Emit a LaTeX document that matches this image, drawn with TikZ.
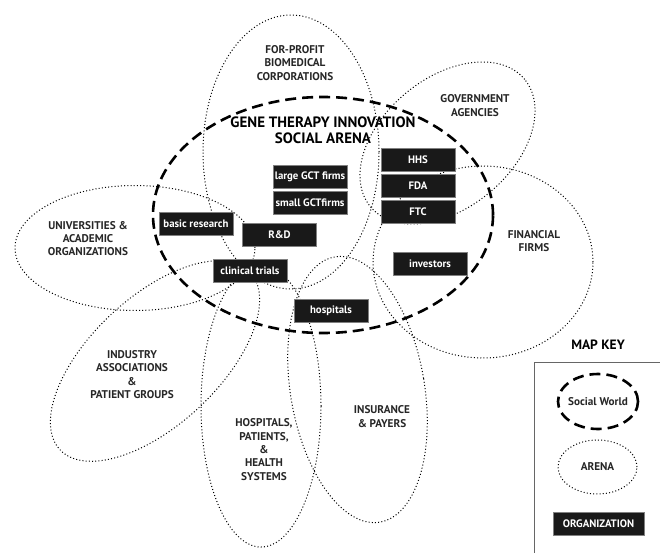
\documentclass[tikz,border=0pt]{standalone}
\usepackage{fontspec}
\setmainfont{PT Sans}
\usepackage{tikz}
\usetikzlibrary{positioning}

\begin{document}
\begin{tikzpicture}[x=1pt,y=1pt,
            arena/.style={line width=1pt,dash pattern=on 1pt off 2.2pt},
            world/.style={line width=2.6pt,dash pattern=on 11pt off 6pt},
            arena label/.style={align=center,text=black!85,font=\fontsize{11.2}{13.3}\selectfont\bfseries},
            title label/.style={align=center,font=\fontsize{15}{15.5}\selectfont\bfseries},
            org node/.style={rectangle,draw=black!50,fill=black!90,text=white,minimum width=74pt,minimum height=23pt,inner sep=1pt,font=\fontsize{10.8}{12}\selectfont\bfseries}
            ]

            \clip (0,0) rectangle (660,-553);

            \draw[arena] (291,-152) ellipse (88 and 137);
            \draw[arena,rotate around={39.5:(447.5,-143)}] (447.5,-143) ellipse (100 and 65);
            \draw[arena] (483,-262) ellipse (110 and 96);
            \draw[arena] (135,-248) ellipse (120 and 62.5);
            \draw[arena,rotate around={43:(155,-361)}] (155,-361) ellipse (130 and 64);
            \draw[arena] (261,-406) ellipse (60 and 141);
            \draw[arena,rotate around={9.6:(357.5,-389.5)}] (357.5,-389.5) ellipse (67 and 134.5);

            \draw[world] (323,-215) ellipse (170 and 118);

            \node[title label](gt) at (323,-130.5){GENE THERAPY INNOVATION\\SOCIAL ARENA};

            \node[arena label](forprofit) at (295,-63){FOR-PROFIT\\BIOMEDICAL\\CORPORATIONS};
            \node[arena label](gov) at (475,-105.5){GOVERNMENT\\AGENCIES};
            \node[arena label](fin) at (534,-241){FINANCIAL\\FIRMS};
            \node[arena label](univ) at (88,-238.5){UNIVERSITIES \&\\ACADEMIC\\ORGANIZATIONS};
            \node[arena label](ind) at (132,-374.5){INDUSTRY\\ASSOCIATIONS\\\&\\PATIENT GROUPS};
            \node[arena label](hosp) at (264,-449.5){HOSPITALS,\\PATIENTS,\\\&\\HEALTH\\SYSTEMS};
            \node[arena label](ins) at (382,-416.5){INSURANCE\\\& PAYERS};

            \node[org node](large) at (310,-176.5){large GCT firms};
            \node[org node](small)[below=3pt of large]{small GCTfirms};
            \node[org node](hhs) at (418,-159.5){HHS};
            \node[org node](fda)[below=2.5pt of hhs]{FDA};
            \node[org node](ftc)[below=2.5pt of fda]{FTC};
            \node[org node](basic) at (196,-223.5){basic research};
            \node[org node](rd) at (279.5,-235){R\&D};
            \node[org node](trials) at (250,-270.5){clinical trials};
            \node[org node](hospitals) at (331,-310.5){hospitals};
            \node[org node](investors) at (430,-263.5){investors};

            \node[title label,font=\fontsize{13.5}{15}\selectfont\bfseries](key) at (598,-345){MAP KEY};
            \draw[black!60,line width=1pt] (534,-570) -- (534,-362) -- (670,-362);
            \draw[world] (598,-401.5) ellipse (40 and 27.5);
            \node[arena label](sw) at (598,-401.5){Social World};
            \draw[arena] (597.5,-467) ellipse (39.5 and 27);
            \node[arena label](ar) at (597.5,-467){ARENA};
            \node[org node,minimum width=91pt](org) at (598.5,-523.5){ORGANIZATION};

        \end{tikzpicture}
\end{document}
